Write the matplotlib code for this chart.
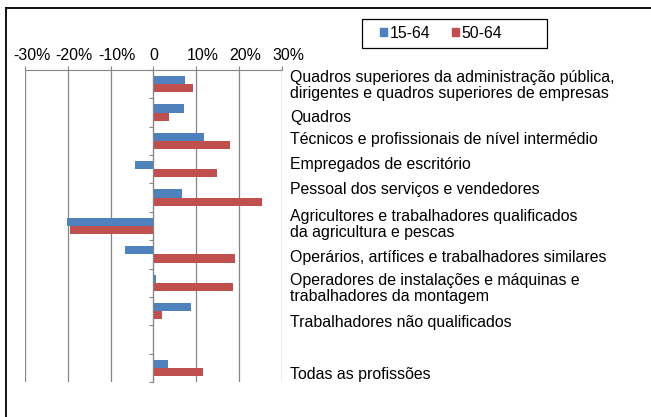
import numpy as np
import matplotlib
matplotlib.use("Agg")
import matplotlib.pyplot as plt
from matplotlib.lines import Line2D
from matplotlib.patches import Rectangle, Patch
from matplotlib.transforms import offset_copy, ScaledTranslation

plt.rcParams['font.family'] = ['Liberation Sans', 'DejaVu Sans']

# profissões (a penúltima posição está vazia no gráfico original)
PROFISSOES = [
    "Quadros superiores da administração pública,\ndirigentes e quadros superiores de empresas",
    "Quadros",
    "Técnicos e profissionais de nível intermédio",
    "Empregados de escritório",
    "Pessoal dos serviços e vendedores",
    "Agricultores e trabalhadores qualificados\nda agricultura e pescas",
    "Operários, artífices e trabalhadores similares",
    "Operadores de instalações e máquinas e\ntrabalhadores da montagem",
    "Trabalhadores não qualificados",
    "",
    "Todas as profissões",
]
serie_15_64 = [7.4, 7.2, 11.9, -4.4, 6.7, -20.2, -6.7, 0.5, 8.8, np.nan, 3.5]
serie_50_64 = [9.3, 3.7, 17.9, 14.9, 25.3, -19.5, 19.1, 18.6, 1.9, np.nan, 11.6]
nomes_series = ["15-64", "50-64"]
ticks_x = [-30, -20, -10, 0, 10, 20, 30]
rotulos_x = ["-30%", "-20%", "-10%", "0", "10%", "20%", "30%"]

# ajuste vertical dos rótulos (pixeis, positivo = para baixo)
desloc_rotulos = [1, 4.5, -1, -5, -8.5, -1.5, 3.5, 6, 11, 0, 6.5]

AZUL = "#4F81BD"
VERMELHO = "#C0504D"
CINZA = "#868686"
TAM = 11.4

fig = plt.figure(figsize=(6.51, 4.17), dpi=100)
ax = fig.add_axes([25/651, 1-382/417, 257/651, 312/417])

y = np.arange(len(PROFISSOES))
larg = 0.29
ax.barh(y - larg/2, serie_15_64, height=larg, color=AZUL, label=nomes_series[0])
ax.barh(y + larg/2, serie_50_64, height=larg, color=VERMELHO, label=nomes_series[1])

ax.set_xlim(-30, 30)
ax.set_ylim(len(PROFISSOES) - 0.5, -0.5)

ax.xaxis.tick_top()
ax.set_xticks(ticks_x)
ax.set_xticklabels(rotulos_x, fontsize=TAM)
ax.tick_params(axis='x', direction='out', length=3, color=CINZA, pad=2)
# no original os rótulos com "%" aparecem deslocados para a direita
for rot in ax.get_xticklabels():
    if rot.get_text().endswith('%'):
        rot.set_transform(rot.get_transform() + ScaledTranslation(6.5/100, 0, fig.dpi_scale_trans))
ax.grid(axis='x', color=CINZA, linewidth=0.9)
ax.set_axisbelow(True)

for lado in ['right', 'bottom']:
    ax.spines[lado].set_visible(False)
ax.spines['top'].set_color(CINZA)
ax.spines['left'].set_position(('data', 0))
ax.spines['left'].set_color(CINZA)
ax.set_yticks(np.arange(len(PROFISSOES) + 1) - 0.5)
ax.set_yticklabels([])
ax.tick_params(axis='y', direction='out', length=3, color=CINZA)

for i, nome in enumerate(PROFISSOES):
    tr = offset_copy(ax.get_yaxis_transform(), fig=fig, x=0, y=-desloc_rotulos[i] * 0.72, units='points')
    ax.text(1 + 8/257, i, nome, transform=tr, ha='left', va='center',
            fontsize=TAM, linespacing=1.07, clip_on=False)

# caixa da legenda
fig.patches.append(Rectangle((362/651, 1-48/417), 185/651, 29/417,
                             transform=fig.transFigure, fill=False,
                             edgecolor='black', linewidth=0.9))
pegas = [Patch(color=AZUL), Patch(color=VERMELHO)]
fig.legend(pegas, nomes_series, loc='center', bbox_to_anchor=(441/651, 1-33.5/417),
           ncol=2, frameon=False, fontsize=TAM, handlelength=0.42, handleheight=0.42,
           handletextpad=0.15, columnspacing=1.4)

# moldura do gráfico
fig.add_artist(Line2D([6/651, 6/651], [0, 1-8/417], transform=fig.transFigure, color='black', linewidth=1.3))
fig.add_artist(Line2D([6/651, 1], [1-8/417, 1-8/417], transform=fig.transFigure, color='black', linewidth=1.3))

fig.savefig("out.png", dpi=100)
